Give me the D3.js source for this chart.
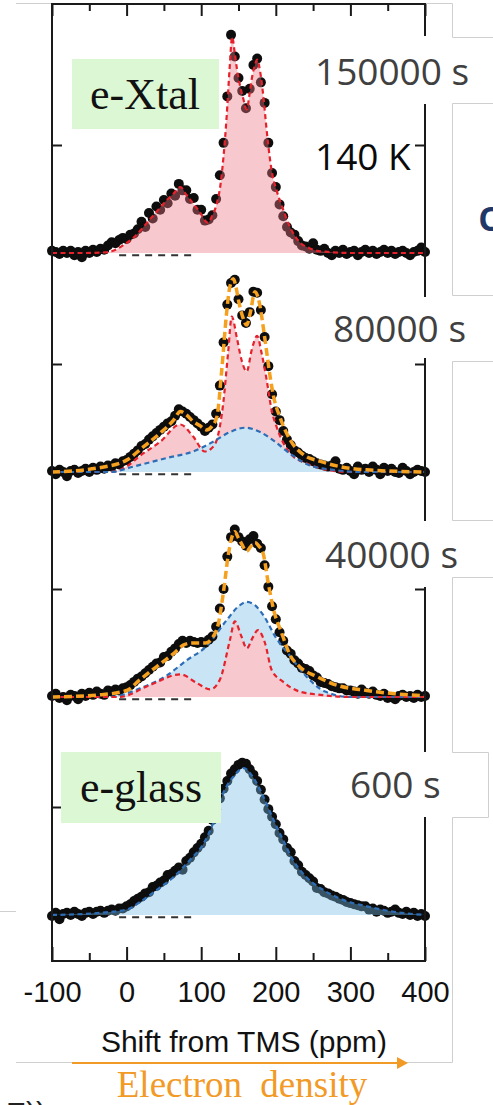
<!DOCTYPE html>
<html><head><meta charset="utf-8">
<script src="https://cdn.jsdelivr.net/npm/d3@7"></script>
<style>
html,body{margin:0;padding:0;background:#fff;}
svg{display:block;}
</style></head>
<body>
<svg id="chart" width="493" height="1105"></svg>
<script>
// ---- Chemical shift axis ----
const shiftTicksMajor = [-100, 0, 100, 200, 300, 400];
const shiftTicksMinor = [-50, 50, 150, 250, 350];
const shiftGrid = d3.range(-100, 401, 5);          // measured points every 5 ppm

// ---- Annealing times ----
const timeLabels = ["150000 s", "80000 s", "40000 s", "600 s"];

// ---- Measured spectra (normalised intensity on shiftGrid) ----
const spec150000 = [0.02,0.01,-0.01,0.02,0.00,0.02,-0.02,0.01,-0.04,0.02,0.00,0.03,0.01,0.04,0.03,0.07,0.10,0.09,0.12,0.14,
 0.13,0.17,0.18,0.22,0.29,0.24,0.37,0.32,0.43,0.40,0.49,0.46,0.55,0.53,0.64,0.58,0.58,0.50,0.51,0.40,
 0.40,0.30,0.31,0.35,0.50,0.72,1.02,1.45,2.02,1.82,1.62,1.50,1.34,1.52,1.74,1.80,1.58,1.39,1.02,0.74,
 0.61,0.45,0.34,0.24,0.19,0.17,0.11,0.07,0.06,0.04,0.09,0.03,0.02,0.04,0.00,-0.02,0.02,0.00,0.03,-0.01,
 0.01,0.02,-0.02,0.01,0.03,0.00,0.02,-0.01,0.01,0.03,0.00,0.02,-0.01,0.01,0.02,0.00,-0.02,0.01,0.02,0.05,0.01];
const spec80000 = [0.01,-0.02,0.02,0.00,-0.04,0.01,0.02,-0.01,0.01,0.03,0.00,0.04,0.02,0.05,0.03,0.06,0.05,0.08,0.07,0.10,
 0.11,0.14,0.17,0.20,0.24,0.26,0.30,0.33,0.36,0.39,0.42,0.45,0.47,0.52,0.58,0.56,0.54,0.51,0.48,0.45,
 0.42,0.38,0.41,0.44,0.54,0.80,1.20,1.55,1.75,1.78,1.60,1.45,1.38,1.48,1.67,1.66,1.50,1.25,0.98,0.72,
 0.56,0.48,0.38,0.30,0.25,0.20,0.18,0.15,0.13,0.12,0.10,0.08,0.07,0.06,0.05,0.06,0.10,0.03,0.02,0.04,
 0.01,-0.02,0.05,0.02,0.03,0.00,0.05,0.02,-0.02,0.04,0.01,0.03,0.00,-0.01,0.04,0.01,-0.02,0.00,0.02,0.01,0.00];
const spec40000 = [0.01,0.03,-0.01,0.00,-0.03,0.02,0.01,-0.02,0.03,0.01,0.04,0.02,0.05,0.03,0.02,0.06,0.05,0.07,0.06,0.08,
 0.09,0.11,0.14,0.17,0.19,0.22,0.25,0.28,0.31,0.32,0.37,0.38,0.42,0.45,0.49,0.52,0.50,0.52,0.51,0.50,
 0.51,0.50,0.53,0.56,0.65,0.82,1.00,1.30,1.48,1.55,1.48,1.44,1.40,1.46,1.49,1.42,1.38,1.22,1.02,0.84,
 0.72,0.60,0.52,0.43,0.40,0.34,0.31,0.27,0.26,0.24,0.20,0.18,0.14,0.13,0.12,0.10,0.09,0.08,0.08,0.06,
 0.06,0.05,0.03,0.07,0.04,0.03,0.05,0.02,0.01,0.03,-0.01,0.00,-0.02,0.01,0.02,0.00,0.01,-0.01,0.02,0.00,0.01];
const spec600 = [-0.01,0.02,-0.04,0.01,0.02,0.00,0.03,0.01,-0.01,0.02,0.03,0.01,0.03,0.04,0.02,0.04,0.05,0.04,0.06,0.06,
 0.08,0.10,0.13,0.15,0.17,0.20,0.21,0.26,0.27,0.30,0.32,0.37,0.38,0.41,0.44,0.42,0.50,0.53,0.58,0.62,
 0.66,0.72,0.78,0.88,0.98,1.08,1.17,1.24,1.31,1.35,1.39,1.41,1.40,1.35,1.30,1.24,1.16,1.07,0.98,0.91,
 0.84,0.76,0.70,0.62,0.58,0.50,0.46,0.40,0.37,0.34,0.31,0.25,0.24,0.21,0.20,0.18,0.17,0.15,0.14,0.12,
 0.11,0.10,0.09,0.08,0.08,0.05,0.06,0.03,0.05,0.04,0.02,0.03,0.05,0.02,0.01,0.03,0.00,0.02,-0.01,0.01,-0.01];

// ---- Fitted components: knot positions (ppm) and intensities ----
// 150000 s : crystalline component only
const xtal150Ppm = [-100,-60,-30,-18,-5,9,20,31,40,54,63,72,80,89,98,109,115,121,126,130,134,138,141.5,145,148,152,156,161,165,168,172,175,179,183,188,192,195,201,210,219,232,245,255,270,300,400];
const xtal150Val = [0,0,0.005,0.02,0.07,0.14,0.22,0.31,0.38,0.49,0.55,0.61,0.54,0.46,0.38,0.28,0.35,0.46,0.64,0.9,1.25,1.7,2.0,1.85,1.70,1.55,1.44,1.33,1.48,1.62,1.74,1.79,1.68,1.47,1.12,0.88,0.74,0.58,0.40,0.24,0.10,0.045,0.02,0.01,0,0];
// 80000 s
const sum80Ppm = [-100,-36,0,22,45,63,72,80,89,98,107,114,121,127.5,134,138,143,147,150,155,161,166,172,176,179,184,188,192,197,206,219,237,259,286,322,400];
const sum80Val = [0,0.04,0.11,0.23,0.36,0.48,0.56,0.53,0.47,0.43,0.39,0.42,0.51,0.94,1.47,1.70,1.79,1.70,1.59,1.45,1.36,1.48,1.67,1.62,1.53,1.30,1.10,0.90,0.70,0.50,0.30,0.16,0.10,0.05,0.02,0];
const xtal80Ppm = [-100,-22,0,18,45,72,89,105,114,121,129.6,136,141,147.6,154,161,167.7,175,181,187.8,194.5,201,210,221,241,268,300,400];
const xtal80Val = [0,0,0.05,0.15,0.28,0.44,0.33,0.19,0.22,0.30,0.64,1.10,1.44,1.25,1.04,0.93,1.13,1.26,1.10,0.85,0.57,0.42,0.27,0.16,0.08,0.02,0,0];
const glass80Ppm = [-100,-22,9,54,89,116,138.6,159,179,201,221,246,277,310,400];
const glass80Val = [0,0,0.05,0.13,0.19,0.28,0.37,0.41,0.37,0.27,0.16,0.06,0.02,0,0];
// 40000 s
const sum40Ppm = [-100,-36,0,18,40,62.6,76,87,98,106,114,123,129.6,136,140,145,150,154,161,166,172,177,183,190,197,208,219,232,255,277,322,360,400];
const sum40Val = [0,0.02,0.06,0.16,0.28,0.40,0.48,0.50,0.50,0.50,0.54,0.68,0.96,1.30,1.45,1.53,1.47,1.42,1.35,1.39,1.43,1.40,1.33,1.05,0.81,0.59,0.39,0.28,0.19,0.12,0.06,0.03,0.01];
const glass40Ppm = [-100,-22,18,54,80.5,107,134,150,161,172,183,201,219,241,266,300,400];
const glass40Val = [0,0,0.08,0.20,0.34,0.47,0.71,0.84,0.88,0.85,0.76,0.54,0.38,0.19,0.05,0,0];
const xtal40Ppm = [-100,-10,31,72,94,112,125,138.6,145,154,161,169,176,185.5,194.5,210,232,260,300,400];
const xtal40Val = [0,0,0.11,0.21,0.13,0.07,0.16,0.53,0.70,0.56,0.45,0.55,0.62,0.50,0.25,0.14,0.05,0.02,0,0];
// 600 s : glass component only
const glass600Ppm = [-100,-36,0,18,40,62.6,85,103,116,129.6,143,157,170,183,197,210,223,241,264,290,322,358,400];
const glass600Val = [0,0.02,0.05,0.12,0.23,0.35,0.51,0.66,0.85,1.13,1.28,1.36,1.27,1.10,0.88,0.69,0.51,0.35,0.23,0.14,0.08,0.03,0];

// zero-line reference segment (ppm)
const zeroRef = [-10, 90];

// ---- Layout ----
const plot = {left: 52, right: 425, top: 4, bottom: 961};
const baselines = [253, 472, 697, 915];
const unitPx = 108;
const ink = "#1a1a1a";

const colors = {
  xtal:  {line: "#e5212b", fill: "#f7c8cd", glaze: "rgba(235,117,130,0.4)"},
  glass: {line: "#2d6db5", fill: "#c9e4f5", glaze: "rgba(117,187,230,0.4)"},
  sum:   {line: "#f5a01e"}
};

const panels = [
  {dots: spec150000, overDots: true,
   fills: [{ppm: xtal150Ppm, val: xtal150Val, kind: "xtal"}],
   lines: [{ppm: xtal150Ppm, val: xtal150Val, kind: "xtal"}]},
  {dots: spec80000, overDots: false,
   fills: [{ppm: xtal80Ppm, val: xtal80Val, kind: "xtal"}, {ppm: glass80Ppm, val: glass80Val, kind: "glass"}],
   lines: [{ppm: xtal80Ppm, val: xtal80Val, kind: "xtal"}, {ppm: glass80Ppm, val: glass80Val, kind: "glass"},
           {ppm: sum80Ppm, val: sum80Val, kind: "sum"}]},
  {dots: spec40000, overDots: false,
   fills: [{ppm: glass40Ppm, val: glass40Val, kind: "glass"}, {ppm: xtal40Ppm, val: xtal40Val, kind: "xtal"}],
   lines: [{ppm: glass40Ppm, val: glass40Val, kind: "glass"}, {ppm: xtal40Ppm, val: xtal40Val, kind: "xtal"},
           {ppm: sum40Ppm, val: sum40Val, kind: "sum"}]},
  {dots: spec600, overDots: true,
   fills: [{ppm: glass600Ppm, val: glass600Val, kind: "glass"}],
   lines: [{ppm: glass600Ppm, val: glass600Val, kind: "glass"}]}
];

const svg = d3.select("#chart");
const x = d3.scaleLinear().domain([-100, 400]).range([plot.left, plot.right]);

// ---- Background slide frame (light grey boxes) ----
const frame = svg.append("g").attr("stroke", "#cfcfcf").attr("stroke-width", 1).attr("fill", "none");
frame.append("path").attr("d",
  "M16,3.5H452.5V37.5H493" +
  "M493,103.5H452.5V295.5H493" +
  "M493,361.5H452.5V520.5H493" +
  "M493,577.5H452.5V752.5H488.5V817.5H452.5V1062.5H16" +
  "M0,911.5H16");

// ---- Spectra ----
panels.forEach((p, i) => {
  const y = d3.scaleLinear().domain([0, 1]).range([baselines[i], baselines[i] - unitPx]);
  const g = svg.append("g");
  const areaGen = (c) => d3.area()
      .x((d, k) => x(c.ppm[k])).y0(y(0)).y1(d => y(d))
      .curve(d3.curveMonotoneX)(c.val);
  const lineGen = (c) => d3.line()
      .x((d, k) => x(c.ppm[k])).y(d => y(d))
      .curve(d3.curveMonotoneX)(c.val);

  const drawFills = () => p.fills.forEach(c => {
    g.append("path").attr("d", areaGen(c))
      .attr("fill", p.overDots ? colors[c.kind].glaze : colors[c.kind].fill);
  });
  const drawDots = () => g.append("g").selectAll("circle")
      .data(p.dots).join("circle")
      .attr("cx", (d, k) => x(shiftGrid[k]))
      .attr("cy", d => y(d))
      .attr("r", 5)
      .attr("fill", "#0d0d0d");

  if (p.overDots) { drawDots(); drawFills(); } else { drawFills(); drawDots(); }

  // zero-line reference
  g.append("line")
    .attr("x1", x(zeroRef[0])).attr("x2", x(zeroRef[1]))
    .attr("y1", y(-0.02)).attr("y2", y(-0.02))
    .attr("stroke", "#333").attr("stroke-width", 2).attr("stroke-dasharray", "7,6");

  p.lines.forEach(c => {
    const isSum = c.kind === "sum";
    g.append("path").attr("d", lineGen(c))
      .attr("fill", "none")
      .attr("stroke", colors[c.kind].line)
      .attr("stroke-width", isSum ? 3.5 : 2.2)
      .attr("stroke-dasharray", isSum ? "8,4" : "5,3.5");
  });

  // panel ticks on both vertical axes
  const tl = svg.append("g").attr("transform", `translate(${plot.left},0)`)
    .call(d3.axisRight(y).tickValues([1]).tickSizeInner(10).tickSizeOuter(0).tickFormat(""));
  const tr = svg.append("g").attr("transform", `translate(${plot.right},0)`)
    .call(d3.axisLeft(y).tickValues([1]).tickSizeInner(10).tickSizeOuter(0).tickFormat(""));
  [tl, tr].forEach(a => { a.select(".domain").remove(); a.selectAll("line").attr("stroke", ink).attr("stroke-width", 2); });
});

// ---- Frame and x axes ----
svg.append("rect")
  .attr("x", plot.left).attr("y", plot.top)
  .attr("width", plot.right - plot.left).attr("height", plot.bottom - plot.top)
  .attr("fill", "none").attr("stroke", ink).attr("stroke-width", 2);

function styleAxis(a) {
  a.select(".domain").remove();
  a.selectAll("line").attr("stroke", ink).attr("stroke-width", 2);
}
svg.append("g").attr("transform", `translate(0,${plot.top})`)
  .call(d3.axisBottom(x).tickValues(shiftTicksMajor).tickSizeInner(12).tickSizeOuter(0).tickFormat(""))
  .call(styleAxis);
svg.append("g").attr("transform", `translate(0,${plot.top})`)
  .call(d3.axisBottom(x).tickValues(shiftTicksMinor).tickSizeInner(7).tickSizeOuter(0).tickFormat(""))
  .call(styleAxis);
const bottomAxis = svg.append("g").attr("transform", `translate(0,${plot.bottom})`)
  .call(d3.axisBottom(x).tickValues(shiftTicksMajor).tickSizeInner(-14).tickSizeOuter(0).tickPadding(20).tickFormat(d => String(d)))
  .call(styleAxis);
bottomAxis.attr("font-family", "'Liberation Sans', Arial, sans-serif").attr("font-size", 29);
bottomAxis.selectAll("text").attr("fill", "#111");
svg.append("g").attr("transform", `translate(0,${plot.bottom})`)
  .call(d3.axisBottom(x).tickValues(shiftTicksMinor).tickSizeInner(-8).tickSizeOuter(0).tickFormat(""))
  .call(styleAxis);

svg.append("text")
  .attr("x", 244).attr("y", 1052)
  .attr("text-anchor", "middle")
  .attr("font-family", "'Liberation Sans', Arial, sans-serif").attr("font-size", 30)
  .attr("fill", "#111")
  .text("Shift from TMS (ppm)");

// ---- Time labels on white plates ----
const plates = [[305, 36, 146, 68], [320, 297, 131, 61], [315, 521, 136, 66], [340, 752, 111, 65]];
const labelPos = [[315, 85], [333, 342], [325, 568], [350, 798]];
timeLabels.forEach((t, i) => {
  const r = plates[i];
  svg.append("rect").attr("x", r[0]).attr("y", r[1]).attr("width", r[2]).attr("height", r[3]).attr("fill", "#fff");
  svg.append("text").attr("x", labelPos[i][0]).attr("y", labelPos[i][1])
    .attr("font-family", "'Open Sans', sans-serif").attr("font-size", 37)
    .attr("fill", "#404040").text(t);
});
svg.append("text").attr("x", 315).attr("y", 170)
  .attr("font-family", "'Open Sans', sans-serif").attr("font-size", 37)
  .attr("fill", "#0a0a0a").text("140 K");

// ---- Phase tags ----
const tags = [{text: "e-Xtal", box: [72, 59, 147, 70], tx: 145, ty: 109},
              {text: "e-glass", box: [61, 752, 160, 71], tx: 141, ty: 802}];
tags.forEach(t => {
  svg.append("rect").attr("x", t.box[0]).attr("y", t.box[1]).attr("width", t.box[2]).attr("height", t.box[3])
    .attr("fill", "#dcf7d4");
  svg.append("text").attr("x", t.tx).attr("y", t.ty).attr("text-anchor", "middle")
    .attr("font-family", "'Liberation Serif', 'Times New Roman', serif").attr("font-size", 44)
    .attr("fill", "#111").text(t.text);
});

// ---- Electron density arrow ----
const orange = "#f29a26";
svg.append("line").attr("x1", 72).attr("x2", 399).attr("y1", 1063).attr("y2", 1063)
  .attr("stroke", orange).attr("stroke-width", 2);
svg.append("path").attr("d", "M397,1057L408,1063L397,1069Z").attr("fill", orange);
svg.append("text").attr("x", 242).attr("y", 1097).attr("text-anchor", "middle")
  .attr("font-family", "'Liberation Serif', 'Times New Roman', serif").attr("font-size", 37)
  .attr("word-spacing", 9).attr("fill", orange).text("Electron density");

// ---- Neighbouring slide fragments ----
svg.append("text").attr("x", 478).attr("y", 231)
  .attr("font-family", "'Open Sans', sans-serif").attr("font-size", 44).attr("font-weight", 600)
  .attr("fill", "#1f3868").text("c");
svg.append("text").attr("x", 6).attr("y", 1123)
  .attr("font-family", "'Liberation Sans', Arial, sans-serif").attr("font-size", 30)
  .attr("fill", "#222").text("E))");
</script>
</body></html>
